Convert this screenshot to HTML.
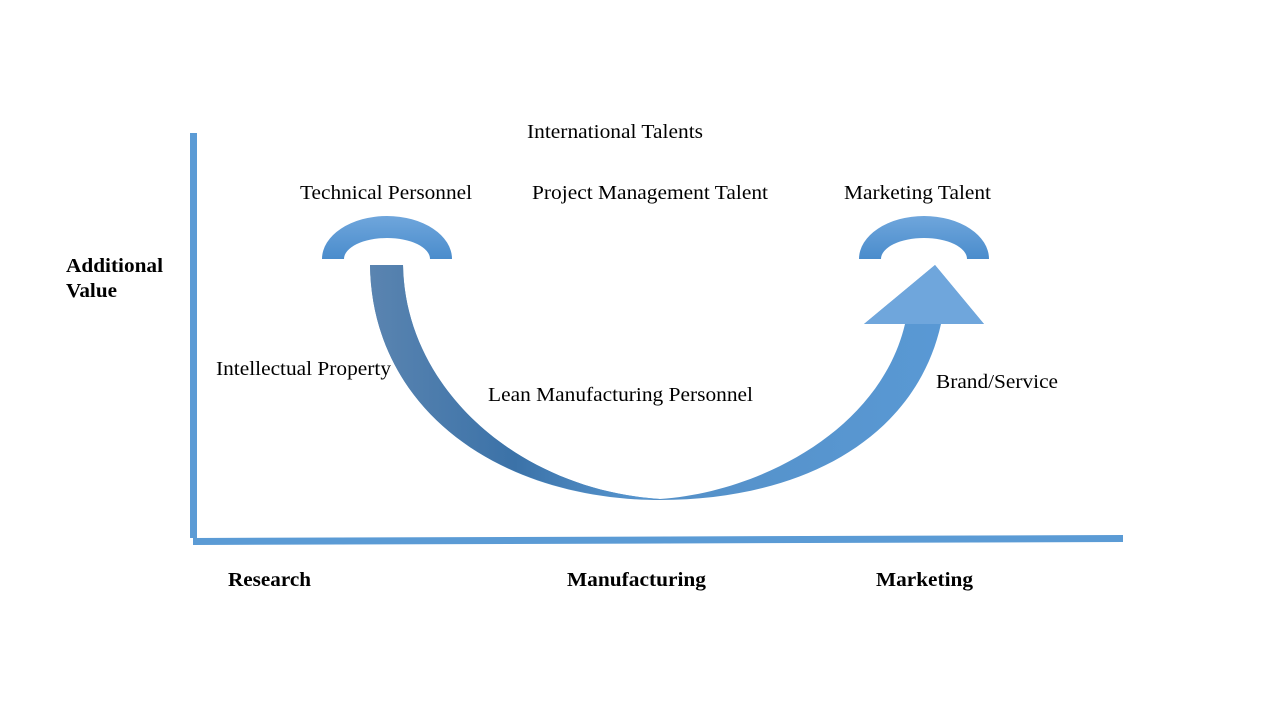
<!DOCTYPE html>
<html><head><meta charset="utf-8"><style>
body{margin:0;background:#fff;}
svg{display:block;}
text{font-family:"Liberation Serif",serif;font-size:20px;fill:#000;}
.b{font-weight:bold;}
</style></head><body>
<svg width="1280" height="720" viewBox="0 0 1280 720">
<defs>
<linearGradient id="g1" x1="0" y1="0" x2="1" y2="0">
<stop offset="0" stop-color="#5a84b0"/><stop offset="0.5" stop-color="#3b72a8"/><stop offset="1" stop-color="#5b9bd5"/>
</linearGradient>
<linearGradient id="g2" x1="0" y1="0" x2="0" y2="1">
<stop offset="0" stop-color="#6fa6dc"/><stop offset="1" stop-color="#4a8ccc"/>
</linearGradient>
<linearGradient id="g3" x1="0" y1="0" x2="1" y2="0">
<stop offset="0" stop-color="#4f87bb"/><stop offset="1" stop-color="#5a9ad6"/>
</linearGradient>
</defs>
<rect x="190" y="133" width="7" height="405" fill="#5b9bd5"/>
<polygon points="193,538 1123,535 1123,542 193,545" fill="#5b9bd5"/>
<path d="M322,259 A65,43 0 0 1 452,259 L430,259 A43,21 0 0 0 344,259 Z" fill="url(#g2)"/>
<path d="M859,259 A65,43 0 0 1 989,259 L967,259 A43,21 0 0 0 881,259 Z" fill="url(#g2)"/>
<path d="M370,265 L403,265 C405,390 520,490 660,499 C760,492 880,430 905,324 L864,324 L935,265 L984,324 L941,324 C915,440 800,500 660,500 C500,500 372,410 370,265 Z" fill="url(#g3)"/>
<path d="M370,265 L403,265 C405,390 520,490 660,499 C500,500 372,410 370,265 Z" fill="url(#g1)"/>
<polygon points="864,324 935,265 984,324" fill="#6fa6dc"/>
<text x="527" y="138" textLength="176" lengthAdjust="spacingAndGlyphs">International Talents</text>
<text x="300" y="199" textLength="172" lengthAdjust="spacingAndGlyphs">Technical Personnel</text>
<text x="532" y="199" textLength="236" lengthAdjust="spacingAndGlyphs">Project Management Talent</text>
<text x="844" y="199" textLength="147" lengthAdjust="spacingAndGlyphs">Marketing Talent</text>
<text x="66" y="272" class="b" textLength="97" lengthAdjust="spacingAndGlyphs">Additional</text>
<text x="66" y="297" class="b" textLength="51" lengthAdjust="spacingAndGlyphs">Value</text>
<text x="216" y="375" textLength="175" lengthAdjust="spacingAndGlyphs">Intellectual Property</text>
<text x="488" y="401" textLength="265" lengthAdjust="spacingAndGlyphs">Lean Manufacturing Personnel</text>
<text x="936" y="388" textLength="122" lengthAdjust="spacingAndGlyphs">Brand/Service</text>
<text x="228" y="586" class="b" textLength="83" lengthAdjust="spacingAndGlyphs">Research</text>
<text x="567" y="586" class="b" textLength="139" lengthAdjust="spacingAndGlyphs">Manufacturing</text>
<text x="876" y="586" class="b" textLength="97" lengthAdjust="spacingAndGlyphs">Marketing</text>
</svg>
</body></html>
